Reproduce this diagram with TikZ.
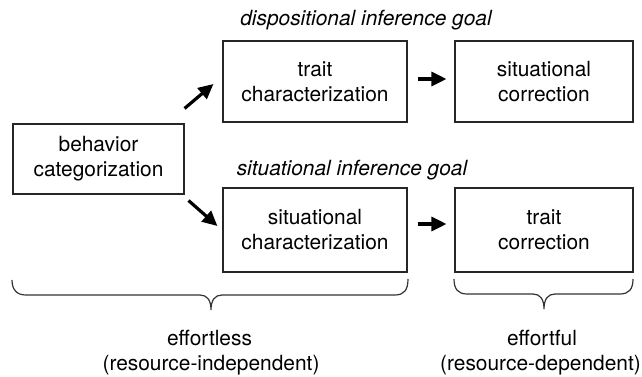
\documentclass[tikz,border=0pt]{standalone}
\usepackage{fontspec}
\setmainfont{TeX Gyre Heros}
\usetikzlibrary{arrows.meta,calc}
\begin{document}
\begin{tikzpicture}[x=1pt,y=-1pt,
  box/.style={draw=black!85,line width=1.1pt,minimum width=#1,align=center,inner sep=0pt,
    font=\fontsize{20.9}{25}\selectfont},
  box/.default=184pt,
  arr/.style={line width=3.2pt,-{Triangle[length=15pt,width=14pt]},shorten >=0pt},
  brace/.style={draw=black!80,line width=1.2pt},
  lbl/.style={font=\fontsize{20.9}{25}\selectfont,inner sep=0pt},
  ttl/.style={font=\fontsize{20.9}{25}\selectfont\itshape,inner sep=0pt,anchor=base}
]
\useasboundingbox (0,0) rectangle (642,377);
\node[box=171pt,minimum height=70pt] (beh) at (98.5,159) {behavior\\categorization};
\node[box,minimum height=81pt] (trait) at (315,81.5) {trait\\characterization};
\node[box=178pt,minimum height=81pt] (sitcorr) at (544,81.5) {situational\\correction};
\node[box,minimum height=84pt] (sitchar) at (315,230) {situational\\characterization};
\node[box=178pt,minimum height=84pt] (traitcorr) at (544,230) {trait\\correction};
\node[ttl] (t1) at (366,26) {dispositional inference goal};
\node[ttl] (t2) at (352,175) {situational inference goal};
\draw[arr] ($(beh.north east)+(0,-15)$) -- ($(trait.west)+(-9,2.5)$);
\draw[arr] ($(beh.south east)+(4,6)$) -- ($(sitchar.west)+(-5,-4)$);
\draw[arr] ($(trait.east)+(10,-2.5)$) -- ($(sitcorr.west)+(-8,-2.5)$);
\draw[arr] ($(sitchar.east)+(10,-6)$) -- ($(traitcorr.west)+(-8,-6)$);
% braces
\draw[brace] (12,280) .. controls (12,290) and (17,295) .. (26,295) -- (200,295)
  .. controls (207,295) and (211,300) .. (211,310)
  .. controls (211,300) and (215,295) .. (222,295) -- (395,295)
  .. controls (404,295) and (408,290) .. (408,279);
\draw[brace] (454,279) .. controls (454,289) and (458,294) .. (467,294) -- (533,294)
  .. controls (540,294) and (544,299) .. (544,309)
  .. controls (544,299) and (548,294) .. (555,294) -- (620,294)
  .. controls (629,294) and (633,289) .. (633,279);
\node[lbl,anchor=base] (e1) at (209.5,345) {effortless};
\node[lbl,anchor=base] (e2) at (211,370) {(resource-independent)};
\node[lbl,anchor=base] (f1) at (542,345) {effortful};
\node[lbl,anchor=base] (f2) at (540.5,370) {(resource-dependent)};
\end{tikzpicture}
\end{document}
